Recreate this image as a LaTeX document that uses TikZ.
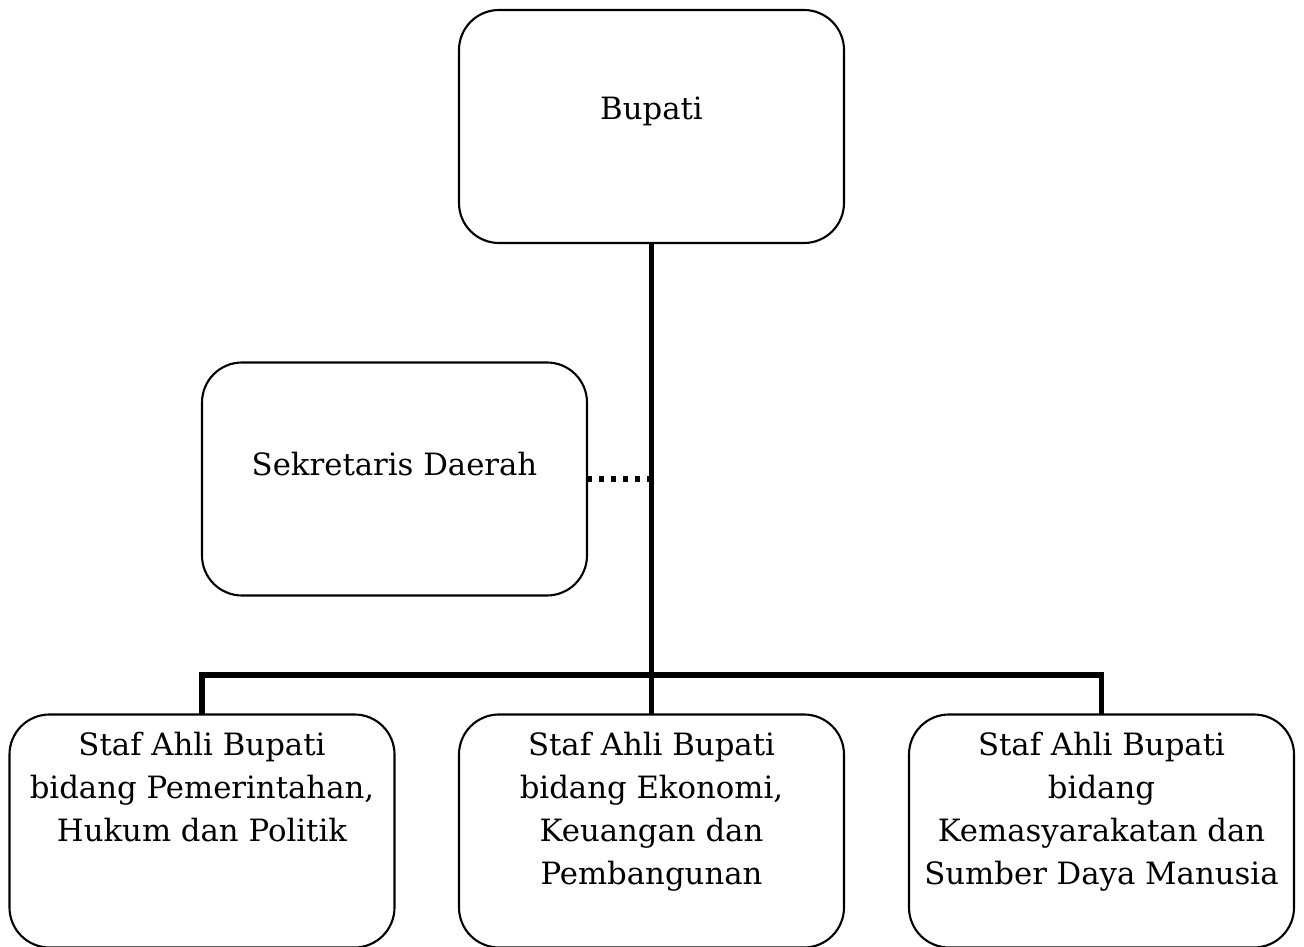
\documentclass[tikz,border=0pt]{standalone}
\usepackage{fontspec}
\setmainfont{DejaVu Serif}
\begin{document}
\begin{tikzpicture}[
  box/.style={draw, line width=1.2pt, rounded corners=0.8cm, minimum width=7.7cm, minimum height=4.66cm, inner sep=0pt, outer sep=0pt},
  txt/.style={inner sep=0pt, align=center, font=\fontsize{17.5}{24.5}\selectfont},
  conn/.style={line width=3.2pt},
  dots/.style={line width=3pt, dash pattern=on 0.1cm off 0.14cm}
]
\useasboundingbox (0,0) rectangle (26.08,-18.94);
\node[box] (bupati) at (13.03,-2.53) {};
\node[box] (sekda) at (7.89,-9.58) {};
\node[box] (s1) at (4.04,-16.62) {};
\node[box] (s2) at (13.03,-16.62) {};
\node[box] (s3) at (22.03,-16.62) {};
\node[txt] (tb) at (13.03,-2.22) {Bupati};
\node[txt] (ts) at (7.89,-9.28) {Sekretaris Daerah};
\node[txt, anchor=north] (t1) at (4.04,-14.64) {Staf Ahli Bupati\\bidang Pemerintahan,\\Hukum dan Politik};
\node[txt, anchor=north] (t2) at (13.03,-14.64) {Staf Ahli Bupati\\bidang Ekonomi,\\Keuangan dan\\Pembangunan};
\node[txt, anchor=north] (t3) at (22.03,-14.64) {Staf Ahli Bupati\\bidang\\Kemasyarakatan dan\\Sumber Daya Manusia};
\coordinate (hub) at (13.03,-13.5);
\coordinate (mid) at (13.03,-9.58);
\draw[conn] (bupati.south) -- (hub);
\draw[conn] (s1.north) -- (s1.north |- hub) -- (s3.north |- hub) -- (s3.north);
\draw[conn] (hub) -- (s2.north);
\draw[dots] (sekda.east) -- (mid);
\end{tikzpicture}
\end{document}
